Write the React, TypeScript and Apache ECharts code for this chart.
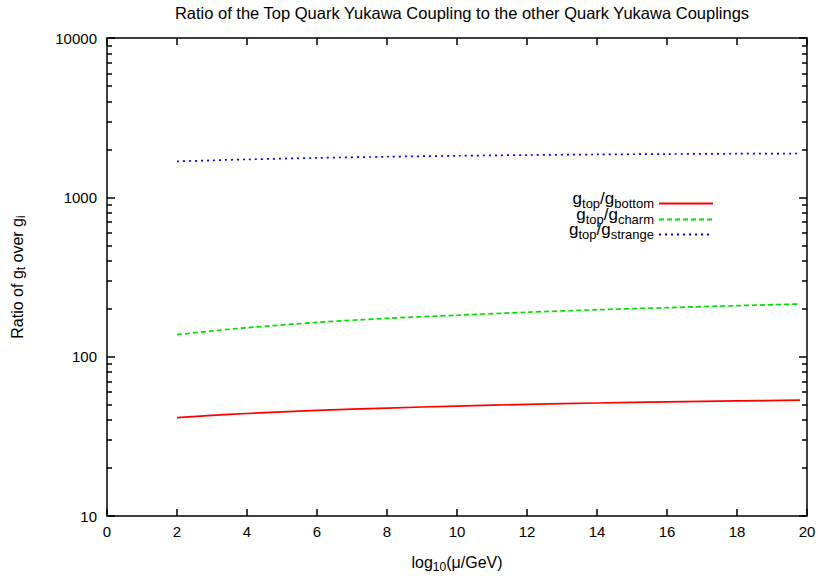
import React, { useEffect, useRef } from "react";
import * as echarts from "echarts";

const xValues = [2, 3, 4, 6, 8, 10, 12, 14, 16, 18, 19.8];
const bottomRatio = [41.4, 42.8, 44.0, 46.0, 47.6, 49.0, 50.2, 51.2, 52.1, 52.8, 53.3];
const charmRatio = [137.5, 145, 152, 164, 174, 182, 190, 197, 203, 209, 214];
const strangeRatio = [1681, 1707, 1730, 1768, 1798, 1823, 1843, 1858, 1869, 1878, 1884];
const seriesNames = ["g_top/g_bottom", "g_top/g_charm", "g_top/g_strange"];
const legendRich: Record<string, string> = {
  "g_top/g_bottom": "{b|g}{s|top}{b|/g}{s|bottom}",
  "g_top/g_charm": "{b|g}{s|top}{b|/g}{s|charm}",
  "g_top/g_strange": "{b|g}{s|top}{b|/g}{s|strange}",
};
const minorTickValues = [20, 30, 40, 50, 60, 70, 80, 90, 200, 300, 400, 500, 600, 700, 800, 900, 2000, 3000, 4000, 5000, 6000, 7000, 8000, 9000];

const FONT = "Liberation Sans";

export default function App() {
  const ref = useRef<HTMLDivElement>(null);
  useEffect(() => {
    if (!ref.current) return;
    const chart = echarts.init(ref.current, null, { renderer: "svg" });
    const pair = (ys: number[]) => xValues.map((x, i) => [x, ys[i]]);
    const richText = {
      b: { fontSize: 17, lineHeight: 13, fontFamily: FONT, color: "#000", verticalAlign: "bottom", padding: [0, 0, 3, 0] },
      s: { fontSize: 13, lineHeight: 12, fontFamily: FONT, color: "#000", verticalAlign: "bottom" },
    };
    const axisLine = { show: true, lineStyle: { color: "#000", width: 1.5 } };
    const colors = ["#ff0000", "#00e000", "#0000ff"];
    const types: any[] = ["solid", [5, 3], [2, 4]];
    const legendTops = [190, 206, 221];
    const minorAxis = (position: string, len: number) => ({
      type: "log",
      logBase: 10,
      min: 10,
      max: 10000,
      position,
      offset: 0,
      axisLine: { show: false, onZero: false },
      axisTick: {
        show: true,
        inside: true,
        length: len,
        customValues: minorTickValues,
        lineStyle: { color: "#000", width: 1.5 },
      },
      axisLabel: { show: false },
      splitLine: { show: false },
    });
    chart.setOption({
      animation: false,
      title: {
        text: "Ratio of the Top Quark Yukawa Coupling to the other Quark Yukawa Couplings",
        left: 457,
        textAlign: "center",
        top: -1,
        textStyle: { fontSize: 16.5, fontWeight: "normal", fontFamily: FONT, color: "#000" },
      },
      legend: seriesNames.map((n, i) => ({
        data: [n],
        right: 108,
        top: legendTops[i],
        padding: 0,
        align: "right",
        itemWidth: 54,
        itemHeight: 12,
        itemStyle: { opacity: 0 },
        formatter: (name: string) => legendRich[name],
        textStyle: { rich: richText, fontFamily: FONT },
        selectedMode: false,
      })),
      grid: { left: 107, top: 38, width: 700, height: 483 },
      xAxis: [
        {
          type: "value",
          min: 0,
          max: 20,
          interval: 2,
          position: "bottom",
          name: "log{s|10}(μ/GeV)",
          nameLocation: "middle",
          nameGap: 36,
          nameTextStyle: {
            fontSize: 16,
            fontFamily: FONT,
            color: "#000",
            rich: {
              s: { fontSize: 12, fontFamily: FONT, color: "#000", padding: [9, 0, 0, 0] },
            },
          },
          axisLine: { ...axisLine, onZero: false },
          axisTick: { inside: true, length: 7, lineStyle: { color: "#000", width: 1.5 } },
          axisLabel: { fontSize: 15, fontFamily: FONT, color: "#000", margin: 8 },
          splitLine: { show: false },
        },
        {
          type: "value",
          min: 0,
          max: 20,
          interval: 2,
          position: "top",
          axisLine: { ...axisLine, onZero: false },
          axisTick: { inside: true, length: 7, lineStyle: { color: "#000", width: 1.5 } },
          axisLabel: { show: false },
          splitLine: { show: false },
        },
      ],
      yAxis: [
        {
          type: "log",
          logBase: 10,
          min: 10,
          max: 10000,
          position: "left",
          name: "Ratio of g{s|t} over g{s|i}",
          nameLocation: "middle",
          nameGap: 80,
          nameRotate: 90,
          nameTextStyle: {
            fontSize: 16,
            fontFamily: FONT,
            color: "#000",
            rich: {
              s: { fontSize: 12, fontFamily: FONT, color: "#000", padding: [8, 0, 0, 0] },
            },
          },
          axisLine: { ...axisLine, onZero: false },
          axisTick: { inside: true, length: 8, lineStyle: { color: "#000", width: 1.5 } },
          axisLabel: {
            fontSize: 15,
            fontFamily: FONT,
            color: "#000",
            margin: 10,
            formatter: (v: number) => String(Math.round(v)),
          },
          splitLine: { show: false },
        },
        {
          type: "log",
          logBase: 10,
          min: 10,
          max: 10000,
          position: "right",
          axisLine: { ...axisLine, onZero: false },
          axisTick: { inside: true, length: 8, lineStyle: { color: "#000", width: 1.5 } },
          axisLabel: { show: false },
          splitLine: { show: false },
        },
        minorAxis("left", 5),
        minorAxis("right", 5),
      ],
      series: seriesNames.map((n, i) => ({
        name: n,
        type: "line",
        data: pair([bottomRatio, charmRatio, strangeRatio][i]),
        showSymbol: false,
        symbol: "none",
        smooth: 0.3,
        color: colors[i],
        lineStyle: { color: colors[i], width: 1.7, type: types[i] },
      })),
    });
    return () => chart.dispose();
  }, []);
  return <div ref={ref} style={{ position: "absolute", left: 0, top: 0, width: 822, height: 578 }} />;
}
